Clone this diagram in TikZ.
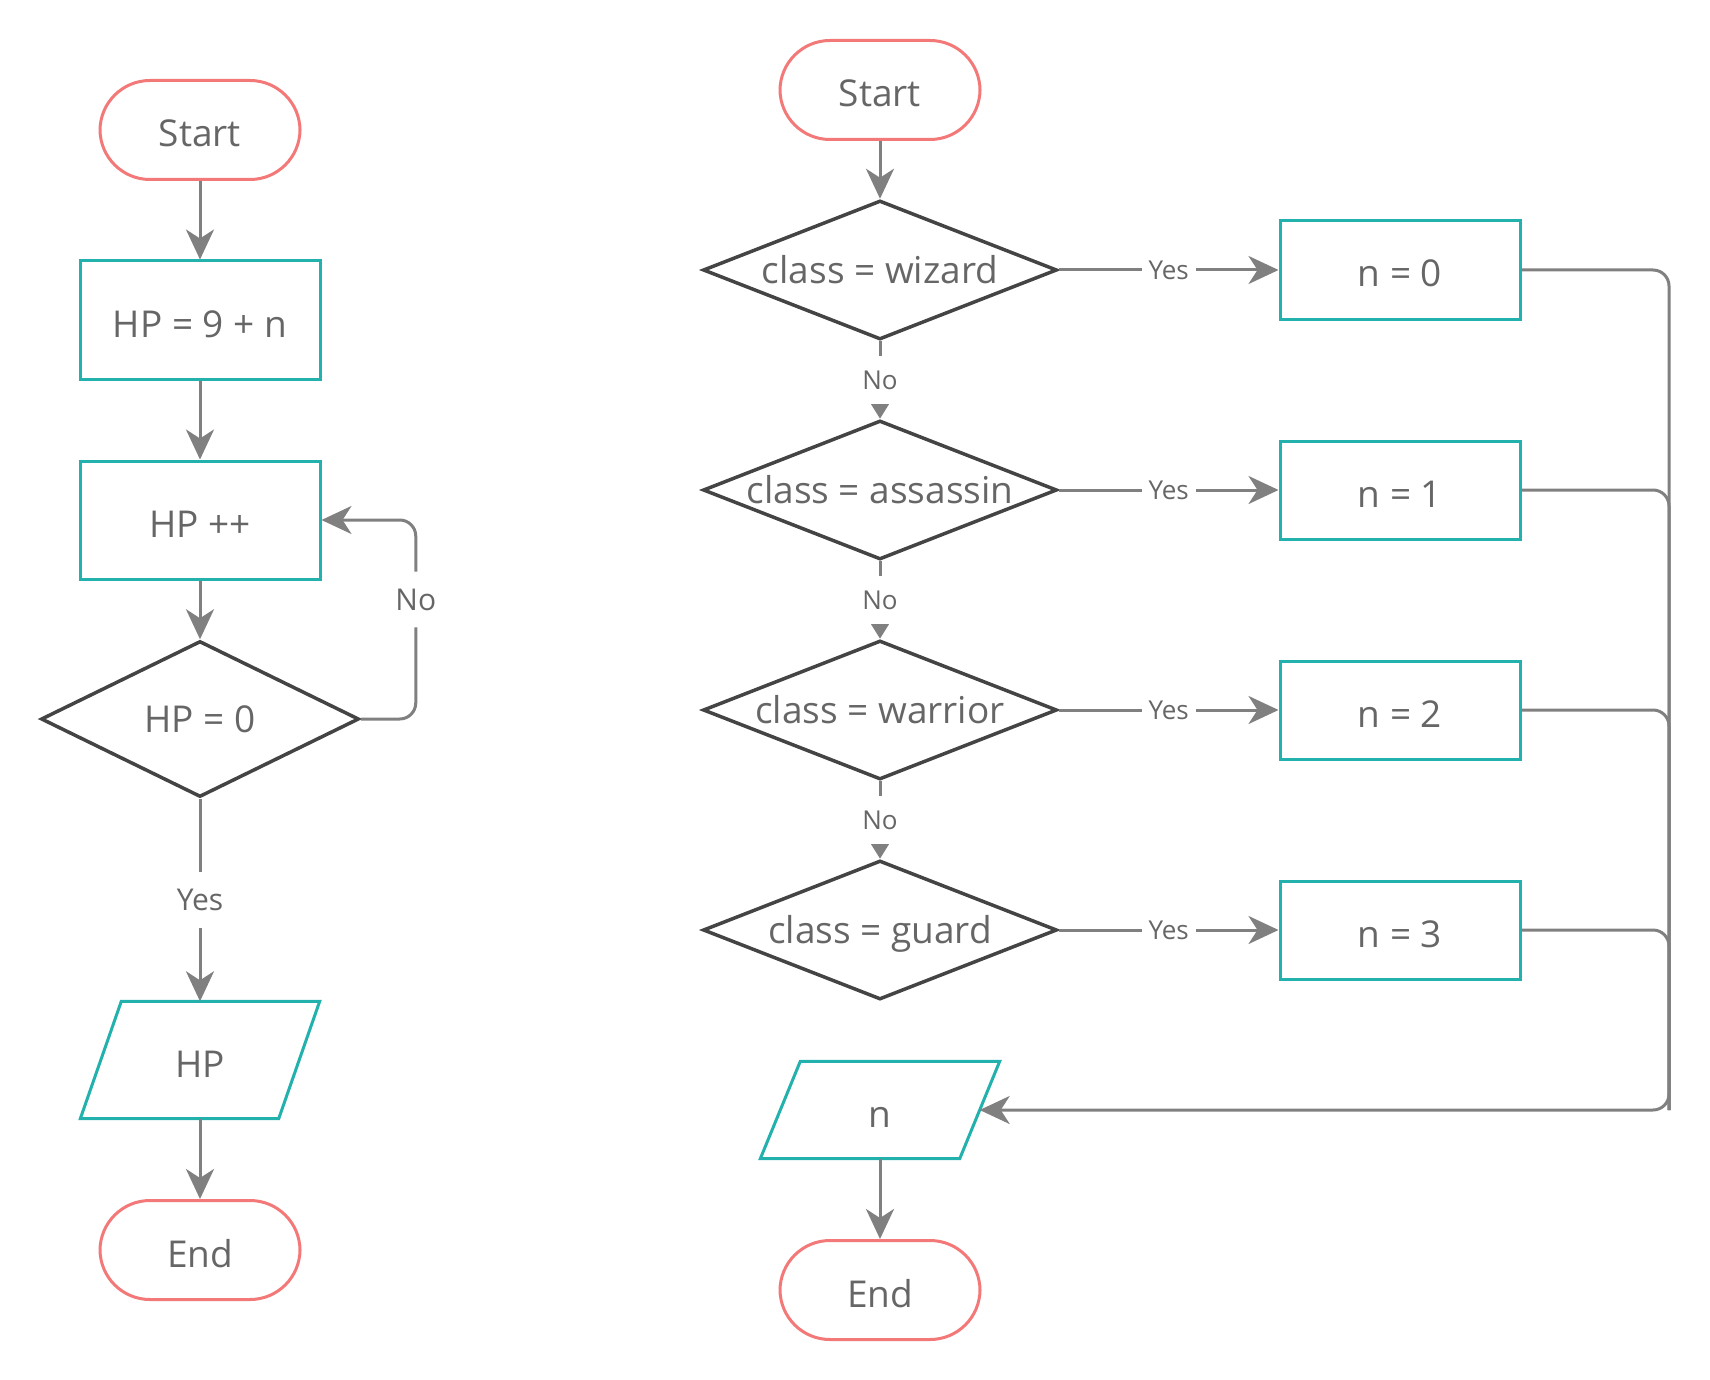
\documentclass[tikz,border=0pt]{standalone}
\usepackage{fontspec}
\setmainfont{Open Sans}
\usepackage{xcolor}
\usepackage{tikz}
\usetikzlibrary{shapes.geometric, arrows.meta}

\definecolor{coral}{HTML}{F37878}
\definecolor{tealline}{HTML}{22B1AD}
\definecolor{darkline}{HTML}{444444}
\definecolor{flowgray}{HTML}{808080}
\definecolor{textgray}{HTML}{666666}
\newcommand{\dtext}[1]{\makebox[0pt]{#1}}
% slanted outline round an io node
\newcommand{\ioshape}[2]{\draw[tealline, line width=3pt, line join=miter] ([xshift=#2]#1.north west) -- ([xshift=#2]#1.north east) -- ([xshift=-#2]#1.south east) -- ([xshift=-#2]#1.south west) -- cycle;}

\begin{document}
\begin{tikzpicture}[x=1pt, y=-1pt]
\tikzstyle{terminal} = [rectangle, rounded corners=50pt, minimum width=200pt, minimum height=99pt, draw=coral, line width=3pt, text=textgray, font=\fontsize{37}{44}\selectfont, text height=34pt, text depth=0pt]
\tikzstyle{process} = [rectangle, minimum width=240pt, minimum height=118pt, draw=tealline, line width=3pt, text=textgray, font=\fontsize{37}{44}\selectfont, text height=34pt, text depth=0pt]
\tikzstyle{decision} = [diamond, inner sep=0pt, minimum width=318pt, minimum height=156pt, draw=darkline, line width=3.5pt, text=textgray, font=\fontsize{37}{44}\selectfont, text height=28pt, text depth=1pt]
\tikzstyle{io} = [rectangle, inner sep=0pt, minimum width=198pt, minimum height=117pt, text=textgray, font=\fontsize{37}{44}\selectfont, text height=34pt, text depth=0pt]
\tikzstyle{arrow} = [line width=3pt, draw=flowgray, -{Stealth[length=30pt, width=28pt, inset=9pt]}]
\tikzstyle{noarrow} = [line width=3pt, draw=flowgray, -{Triangle[length=16pt, width=19pt]}]
\tikzstyle{joinline} = [line width=3pt, draw=flowgray]
\tikzstyle{biglabel} = [fill=white, text=textgray, font=\fontsize{30}{36}\selectfont, inner xsep=4pt, inner ysep=17pt]
\tikzstyle{smalllabel} = [fill=white, text=textgray, font=\fontsize{26}{31}\selectfont, inner xsep=7pt, inner ysep=15pt]

\useasboundingbox (0,0) rectangle (1710,1380);

% Left flow
\node[terminal] (startL) at (200,130) {Start};
\node[process] (hpinit) at (200,320) {HP = 9 + n};
\node[process] (hpinc) at (200,520) {HP ++};
\node[decision] (hpzero) at (200,719) {HP = 0};
\node[io] (hpout) at (200,1060) {HP};
\ioshape{hpout}{20.5pt}
\node[terminal] (endL) at (200,1250) {End};

% Right flow
\node[terminal] (startR) at (880,90) {Start};
\node[decision, minimum width=354pt, minimum height=139pt] (wizard) at (880,270) {\dtext{class = wizard}};
\node[decision, minimum width=354pt, minimum height=139pt] (assassin) at (880,490) {\dtext{class = assassin}};
\node[decision, minimum width=354pt, minimum height=139pt] (warrior) at (880,710) {\dtext{class = warrior}};
\node[decision, minimum width=354pt, minimum height=139pt] (guard) at (880,930) {\dtext{class = guard}};

% Values of n
\node[process, minimum height=98pt] (n0) at (1400,270) {n = 0};
\node[process, minimum height=98pt] (n1) at (1400,490) {n = 1};
\node[process, minimum height=98pt] (n2) at (1400,710) {n = 2};
\node[process, minimum height=98pt] (n3) at (1400,930) {n = 3};

\node[io, minimum width=199pt, minimum height=97pt] (nout) at (880,1110) {n};
\ioshape{nout}{20pt}
\node[terminal] (endR) at (880,1290) {End};
\coordinate (busend) at (1669,1110);

% Connections, left
\draw[arrow] (startL) -- (hpinit);
\draw[arrow] (hpinit) -- (hpinc);
\draw[arrow] (hpinc) -- (hpzero);
\draw[arrow, rounded corners=16pt] (hpzero.east) -- ++(55,0) |- node[biglabel, pos=0.3] {No} (hpinc.east);
\draw[arrow] (hpzero) -- node[biglabel] {Yes} (hpout);
\draw[arrow] (hpout) -- (endL);

% Connections, right
\draw[arrow] (startR) -- (wizard);
\draw[noarrow] (wizard) -- node[smalllabel] {No} (assassin);
\draw[noarrow] (assassin) -- node[smalllabel] {No} (warrior);
\draw[noarrow] (warrior) -- node[smalllabel] {No} (guard);
\draw[arrow] (wizard) -- node[smalllabel] {Yes} (n0);
\draw[arrow] (assassin) -- node[smalllabel] {Yes} (n1);
\draw[arrow] (warrior) -- node[smalllabel] {Yes} (n2);
\draw[arrow] (guard) -- node[smalllabel] {Yes} (n3);
\draw[arrow, rounded corners=16pt] (n0.east) -| (busend) -- (nout.east);
\draw[joinline, rounded corners=16pt] (n1.east) -| (busend);
\draw[joinline, rounded corners=16pt] (n2.east) -| (busend);
\draw[joinline, rounded corners=16pt] (n3.east) -| (busend);
\draw[arrow] (nout) -- (endR);
\end{tikzpicture}
\end{document}
